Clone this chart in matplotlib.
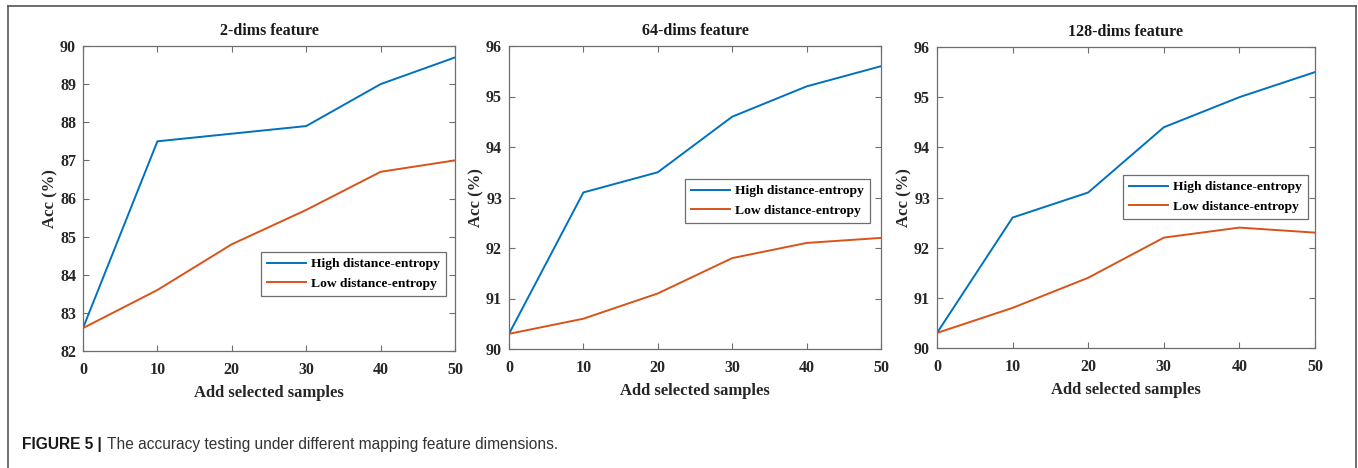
import matplotlib
matplotlib.use("Agg")
import matplotlib.pyplot as plt
from matplotlib.lines import Line2D
from matplotlib import font_manager

x_samples = [0, 10, 20, 30, 40, 50]
titles = ["2-dims feature", "64-dims feature", "128-dims feature"]
high_2 = [82.6, 87.5, 87.7, 87.9, 89.0, 89.7]
low_2 = [82.6, 83.6, 84.8, 85.7, 86.7, 87.0]
high_64 = [90.3, 93.1, 93.5, 94.6, 95.2, 95.6]
low_64 = [90.3, 90.6, 91.1, 91.8, 92.1, 92.2]
high_128 = [90.3, 92.6, 93.1, 94.4, 95.0, 95.5]
low_128 = [90.3, 90.8, 91.4, 92.2, 92.4, 92.3]
ylims = [(82, 90), (90, 96), (90, 96)]
series_labels = ["High distance-entropy", "Low distance-entropy"]
caption_bold = "FIGURE 5 |"
caption_text = "The accuracy testing under different mapping feature dimensions."

W, H = 1358, 468
fig = plt.figure(figsize=(W / 100, H / 100), dpi=100)

serif = ["Liberation Serif", "DejaVu Serif"]
blue = "#0072BD"
orange = "#D95319"
spine_c = "#6e6e6e"

def px_rect(l, t, r, b):
    return [l / W, 1 - b / H, (r - l) / W, (b - t) / H]

rects = [px_rect(83, 46, 455, 351), px_rect(509, 46, 881, 349), px_rect(937, 47, 1315, 348)]
legend_anchor = [(446, 252), (870, 179), (1308, 175)]  # upper-right corner in px

highs = [high_2, high_64, high_128]
lows = [low_2, low_64, low_128]

for i in range(3):
    ax = fig.add_axes(rects[i])
    ax.plot(x_samples, highs[i], color=blue, lw=1.4, label=series_labels[0])
    ax.plot(x_samples, lows[i], color=orange, lw=1.4, label=series_labels[1])
    ax.set_xlim(0, 50)
    ax.set_ylim(*ylims[i])
    ax.set_xticks(x_samples)
    ax.set_yticks(range(ylims[i][0], ylims[i][1] + 1))
    for s in ax.spines.values():
        s.set_color(spine_c)
        s.set_linewidth(0.9)
    ax.tick_params(direction="in", top=True, right=True, length=4, width=0.8,
                   color=spine_c)
    ax.tick_params(axis="x", pad=8)
    ax.tick_params(axis="y", pad=5)
    for lab in ax.get_xticklabels() + ax.get_yticklabels():
        lab.set_fontfamily(serif)
        lab.set_fontweight("bold")
        lab.set_fontsize(11.5)
        lab.set_color("#262626")
    ax.set_title(titles[i], fontfamily=serif, fontweight="bold", fontsize=11.5,
                 color="#1a1a1a", pad=8)
    ax.set_xlabel("Add selected samples", fontfamily=serif, fontweight="bold",
                  fontsize=12, color="#262626", labelpad=5)
    ax.set_ylabel("Acc (%)", fontfamily=serif, fontweight="bold",
                  fontsize=12, color="#262626", labelpad=1)
    lx, ly = legend_anchor[i]
    leg = ax.legend(loc="upper right", bbox_to_anchor=(lx / W, 1 - ly / H),
                    bbox_transform=fig.transFigure, fancybox=False,
                    prop={"family": serif, "weight": "bold", "size": 9.7},
                    handlelength=2.9, handletextpad=0.4, borderpad=0.45,
                    labelspacing=0.5, borderaxespad=0, framealpha=1)
    leg.get_frame().set_edgecolor(spine_c)
    leg.get_frame().set_linewidth(0.9)

# outer frame
frame_kw = dict(color="#555555", lw=1.2, transform=fig.transFigure)
fig.add_artist(Line2D([7.5 / W, 7.5 / W], [0, 1 - 5.5 / H], **frame_kw))
fig.add_artist(Line2D([7.5 / W, 1355.5 / W], [1 - 5.5 / H, 1 - 5.5 / H], **frame_kw))
fig.add_artist(Line2D([1355.5 / W, 1355.5 / W], [0, 1 - 5.5 / H], **frame_kw))

# caption
available = {f.name for f in font_manager.fontManager.ttflist}
if "Liberation Sans Narrow" in available:
    sans = ["Liberation Sans Narrow", "DejaVu Sans"]
    cap_size = 12.5
else:
    sans = ["Liberation Sans", "DejaVu Sans"]
    cap_size = 11.2
t1 = fig.text(22 / W, 1 - 445 / H, caption_bold, fontfamily=sans, fontweight="bold",
              fontsize=cap_size, va="center", ha="left", color="#1a1a1a")
fig.canvas.draw()
bb = t1.get_window_extent()
fig.text((bb.x1 + 5) / W, 1 - 445 / H, caption_text, fontfamily=sans,
         fontsize=cap_size, va="center", ha="left", color="#333333")

fig.savefig("out.png", dpi=100)
